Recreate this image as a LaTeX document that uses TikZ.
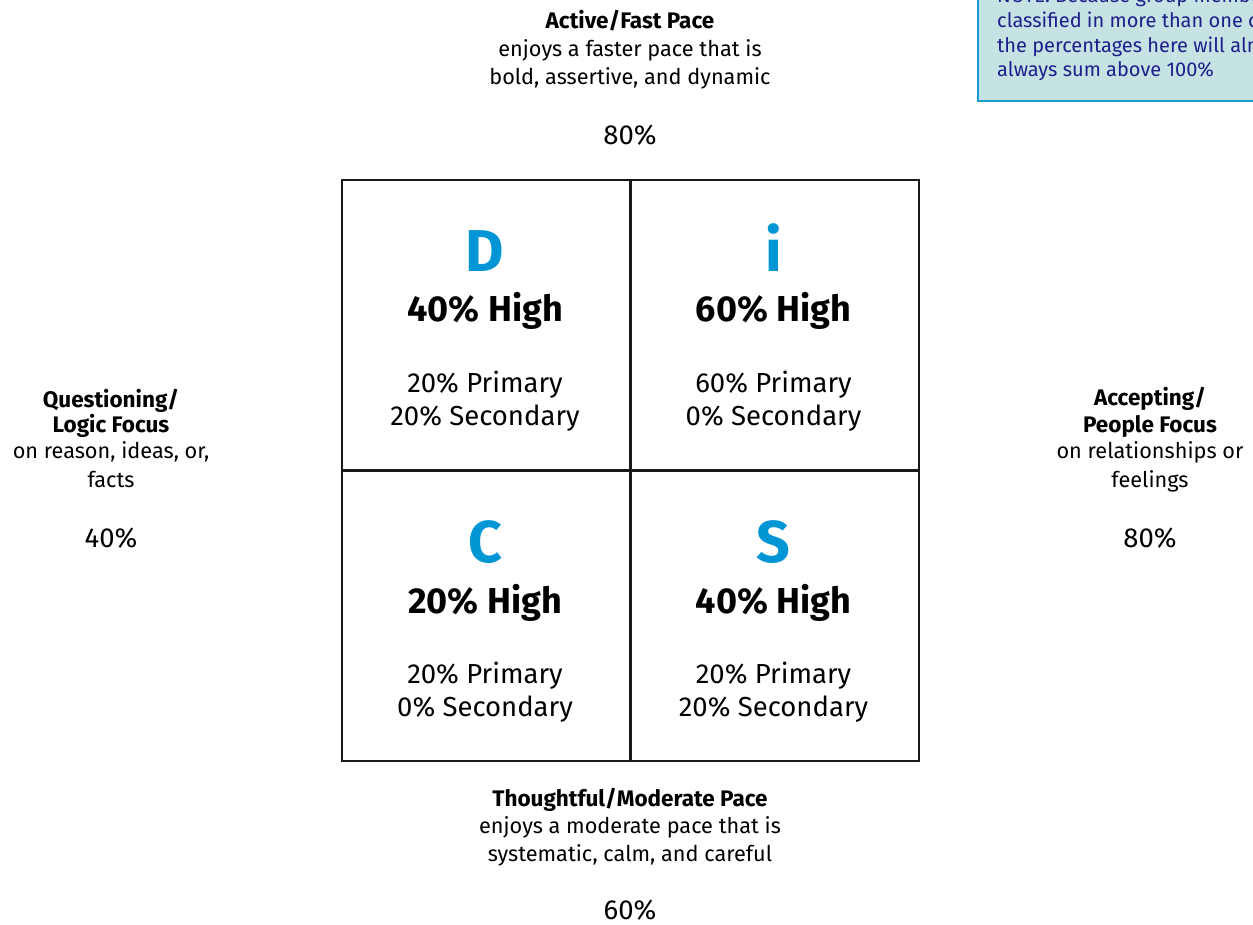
\documentclass[tikz,border=0pt]{standalone}
\usepackage{fontspec}
\setmainfont{Fira Sans}
\definecolor{discblue}{HTML}{0096D6}
\definecolor{notefill}{HTML}{C5E3E3}
\definecolor{noteline}{HTML}{1A9BD0}
\definecolor{notetext}{HTML}{1E1E8C}
\tikzset{
  body/.style={anchor=base,inner sep=0pt,font=\fontsize{21.7}{26}\selectfont},
  head/.style={anchor=base,inner sep=0pt,font=\bfseries\fontsize{22.5}{26}\selectfont},
  pct/.style={anchor=base,inner sep=0pt,font=\fontsize{27.5}{32}\selectfont},
  letter/.style={anchor=base,inner sep=0pt,text=discblue,font=\bfseries\fontsize{59}{70}\selectfont},
  high/.style={anchor=base,inner sep=0pt,font=\bfseries\fontsize{36}{42}\selectfont},
  sub/.style={anchor=base,inner sep=0pt,font=\fontsize{27.5}{32}\selectfont},
  cell/.style={draw=black!90,line width=2.4pt,anchor=north west,minimum width=288pt,minimum height=290pt,inner sep=0pt},
  notetxt/.style={anchor=base west,inner sep=0pt,text=notetext,font=\fontsize{20}{24}\selectfont},
}
\begin{document}
\begin{tikzpicture}[x=1pt,y=-1pt]
\useasboundingbox (0,0) rectangle (1253,925);
\clip (0,0) rectangle (1253,925);
% note box
\node[draw=noteline,fill=notefill,line width=2pt,anchor=north west,minimum width=300pt,minimum height=130pt,inner sep=0pt] (note) at (977,-29.5) {};
\node[notetxt] (n1) at (997,3) {NOTE: Because group members can be};
\node[notetxt] (n2) at (997,28) {classified in more than one category,};
\node[notetxt] (n3) at (997,53) {the percentages here will almost};
\node[notetxt] (n4) at (997,77) {always sum above 100\%};
% top label
\node[head] (t1) at (630,29) {Active/Fast Pace};
\node[body] (t2) at (630,57) {enjoys a faster pace that is};
\node[body] (t3) at (630,85) {bold, assertive, and dynamic};
\node[pct] (t4) at (630,145) {80\%};
% cells
\node[cell] (cD) at (341,179) {};
\node[cell] (cI) at (629.5,179) {};
\node[cell] (cC) at (341,469.5) {};
\node[cell] (cS) at (629.5,469.5) {};
% D
\node[letter] (lD) at (485,272) {D};
\node[high] (hD) at (485,322) {40\% High};
\node[sub] (pD) at (485,392) {20\% Primary};
\node[sub] (sD) at (485,425) {20\% Secondary};
% i
\node[letter] (lI) at (773.5,272) {i};
\node[high] (hI) at (773.5,322) {60\% High};
\node[sub] (pI) at (773.5,392) {60\% Primary};
\node[sub] (sI) at (773.5,425) {0\% Secondary};
% C
\node[letter] (lC) at (485,562) {C};
\node[high] (hC) at (485,613) {20\% High};
\node[sub] (pC) at (485,683) {20\% Primary};
\node[sub] (sC) at (485,716) {0\% Secondary};
% S
\node[letter] (lS) at (773.5,562) {S};
\node[high] (hS) at (773.5,613) {40\% High};
\node[sub] (pS) at (773.5,683) {20\% Primary};
\node[sub] (sS) at (773.5,716) {20\% Secondary};
% left label
\node[head] (l1) at (111,407) {Questioning/};
\node[head] (l2) at (111,432) {Logic Focus};
\node[body] (l3) at (111,458) {on reason, ideas, or,};
\node[body] (l4) at (111,487) {facts};
\node[pct] (l5) at (111,547) {40\%};
% right label
\node[head] (r1) at (1150,405) {Accepting/};
\node[head] (r2) at (1150,432) {People Focus};
\node[body] (r3) at (1150,458) {on relationships or};
\node[body] (r4) at (1150,487) {feelings};
\node[pct] (r5) at (1150,547) {80\%};
% bottom label
\node[head] (b1) at (630,806) {Thoughtful/Moderate Pace};
\node[body] (b2) at (630,833) {enjoys a moderate pace that is};
\node[body] (b3) at (630,861) {systematic, calm, and careful};
\node[pct] (b4) at (630,919) {60\%};
\end{tikzpicture}
\end{document}
